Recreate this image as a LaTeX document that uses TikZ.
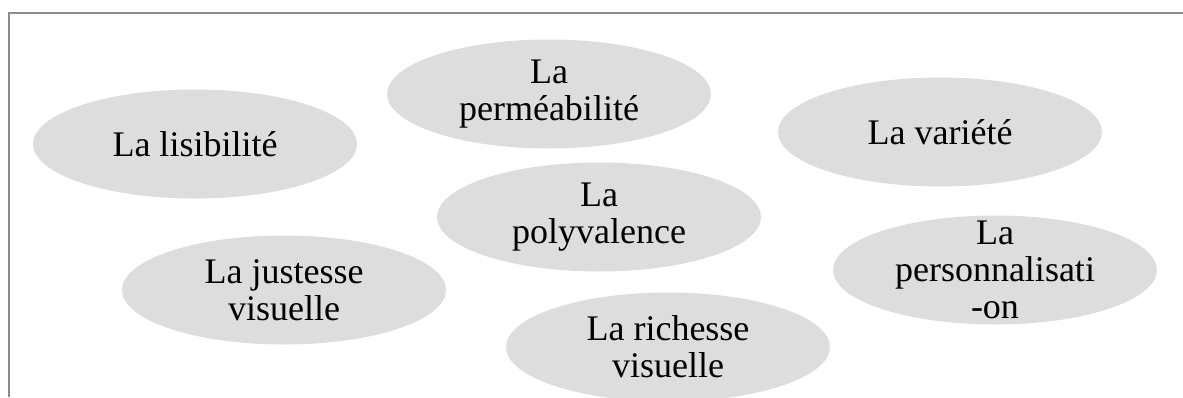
\documentclass[tikz,border=0pt]{standalone}
\usepackage{fontspec}
\setmainfont{Liberation Serif}
\usepackage{tikz}
\usetikzlibrary{shapes.geometric}
\definecolor{bubblegray}{RGB}{221,221,221}
\definecolor{framegray}{RGB}{140,140,140}

\begin{document}
\begin{tikzpicture}[x=0.75pt,y=-0.75pt,
  bubble/.style={ellipse,fill=bubblegray,draw=none,inner sep=0pt,
    minimum width=243pt,minimum height=81.75pt},
  caption/.style={align=center,inner sep=0pt,
    font=\fontsize{27}{27.75}\selectfont}]
  \useasboundingbox (0,0) rectangle (1183,397);

  % frame
  \draw[framegray,line width=0.8pt] (9,397) -- (9,13) -- (1183,13);

  % ellipses
  \node[bubble] (lis) at (195,144) {};
  \node[bubble] (perm) at (549,94) {};
  \node[bubble] (var) at (940,132) {};
  \node[bubble] (poly) at (599,217) {};
  \node[bubble] (just) at (284,290) {};
  \node[bubble] (pers) at (995,270) {};
  \node[bubble] (rich) at (668,347) {};

  % texts
  \node[caption] (lisT) at (lis) {La lisibilité};
  \node[caption] (permT) at (perm) {La\\perméabilité};
  \node[caption] (varT) at (var) {La variété};
  \node[caption] (polyT) at (poly) {La\\polyvalence};
  \node[caption] (justT) at (just) {La justesse\\visuelle};
  \node[caption] (persT) at (pers) {La\\personnalisati\\-on};
  \node[caption] (richT) at (rich) {La richesse\\visuelle};
\end{tikzpicture}
\end{document}
